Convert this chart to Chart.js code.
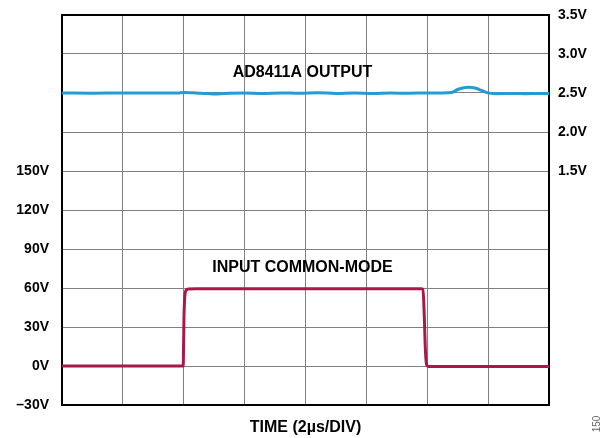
<!DOCTYPE html>
<html>
<head>
<meta charset="utf-8">
<script src="https://cdn.jsdelivr.net/npm/chart.js@4"></script>
<style>
  body { margin: 0; background: #fff; }
  #wrap { width: 611px; height: 438px; }
</style>
</head>
<body>
<div id="wrap"><canvas id="scope" width="611" height="438"></canvas></div>
<script>
// time in µs (2µs per division, 8 divisions)
const inputTime = [0, 3.98, 4.01, 4.04, 4.08, 4.16, 4.4, 11.8, 11.86, 11.9, 11.94, 11.98, 12.04, 12.3, 16];
const inputVolts = [0, 0, 40, 55, 58.4, 59.2, 59.4, 59.4, 59.2, 40, 12, 1, -0.4, -0.3, -0.3];

const outputTime = [0, 1, 2, 3, 3.8, 4.0, 4.3, 4.8, 5.1, 5.5, 6.0, 6.6, 7.2, 7.8, 8.4, 9.0, 9.6, 10.2, 10.8, 11.4, 12.0, 12.5, 12.8, 13.0, 13.2, 13.35, 13.6, 13.8, 14.0, 14.3, 14.8, 15.2, 15.6, 16];
const outputVolts = [2.5, 2.498, 2.5, 2.5, 2.5, 2.508, 2.503, 2.492, 2.488, 2.497, 2.5, 2.494, 2.501, 2.496, 2.502, 2.495, 2.5, 2.493, 2.499, 2.497, 2.5, 2.5, 2.506, 2.545, 2.568, 2.573, 2.56, 2.53, 2.502, 2.49, 2.494, 2.49, 2.495, 2.495];

const leftTicks = [-30, 0, 30, 60, 90, 120, 150];     // labelled ones
const rightTicks = [1.5, 2.0, 2.5, 3.0, 3.5];

const toPts = (xs, ys) => xs.map((x, i) => ({ x: x, y: ys[i] }));

const labelFont = { family: '"Liberation Sans", Arial, sans-serif', size: 14, weight: 'bold' };

// keep chart area fixed, labels may hang over the padding
const fixSide = (s) => { s.width = 62; s.paddingTop = 0; s.paddingBottom = 0; };

const notes = {
    id: 'notes',
    afterDraw(chart) {
        const c = chart.ctx;
        const x = chart.scales.x, y = chart.scales.y, y2 = chart.scales.y2;
        c.save();
        c.fillStyle = '#000';
        c.font = 'bold 16px "Liberation Sans", Arial, sans-serif';
        c.textAlign = 'center';
        c.textBaseline = 'middle';
        c.fillText('AD8411A OUTPUT', x.getPixelForValue(7.9), y2.getPixelForValue(2.76));
        c.fillText('INPUT COMMON-MODE', x.getPixelForValue(7.9), y.getPixelForValue(76));
        // figure number
        c.fillStyle = '#666';
        c.font = '10px "Liberation Sans", Arial, sans-serif';
        c.translate(597, 424);
        c.rotate(-Math.PI / 2);
        c.fillText('150', 0, 0);
        c.restore();
    }
};

const ctx = document.getElementById('scope').getContext('2d');
new Chart(ctx, {
    type: 'line',
    data: {
        datasets: [{
            label: 'AD8411A OUTPUT',
            data: toPts(outputTime, outputVolts),
            yAxisID: 'y2',
            borderColor: '#229bd6',
            borderWidth: 3,
            pointRadius: 0,
            cubicInterpolationMode: 'monotone'
        }, {
            label: 'INPUT COMMON-MODE',
            data: toPts(inputTime, inputVolts),
            yAxisID: 'y',
            borderColor: '#a8194a',
            borderWidth: 3,
            pointRadius: 0,
            cubicInterpolationMode: 'monotone'
        }]
    },
    options: {
        responsive: false,
        animation: false,
        layout: { padding: { top: 15, left: 0, right: 0, bottom: 0 } },
        plugins: { legend: { display: false }, tooltip: { enabled: false } },
        scales: {
            x: {
                type: 'linear',
                min: 0, max: 16,
                ticks: { display: false, stepSize: 2 },
                grid: { color: '#808080', lineWidth: 1, drawTicks: false },
                border: { color: '#000', width: 2 },
                title: {
                    display: true,
                    text: 'TIME (2µs/DIV)',
                    color: '#000',
                    font: { family: labelFont.family, size: 16, weight: 'bold' },
                    padding: { top: 4, bottom: 1 }
                },
                afterFit: (s) => { s.height = 33; }
            },
            y: {
                position: 'left',
                min: -30, max: 270,
                ticks: {
                    stepSize: 30,
                    color: '#000',
                    font: labelFont,
                    padding: 13,
                    callback: (v) => leftTicks.includes(v) ? (v < 0 ? '\u2013' + Math.abs(v) : v) + 'V' : ''
                },
                grid: {
                    drawTicks: false,
                    color: (c) => c.tick && c.tick.value === 270 ? '#000' : '#808080',
                    lineWidth: (c) => c.tick && c.tick.value === 270 ? 2 : 1
                },
                border: { color: '#000', width: 2 },
                afterFit: fixSide
            },
            y2: {
                position: 'right',
                min: -1.5, max: 3.5,
                ticks: {
                    stepSize: 0.5,
                    color: '#000',
                    font: labelFont,
                    padding: 9,
                    callback: (v) => rightTicks.includes(v) ? v.toFixed(1) + 'V' : ''
                },
                grid: { display: false, drawTicks: false },
                border: { color: '#000', width: 2 },
                afterFit: fixSide
            }
        }
    },
    plugins: [notes]
});
</script>
</body>
</html>
